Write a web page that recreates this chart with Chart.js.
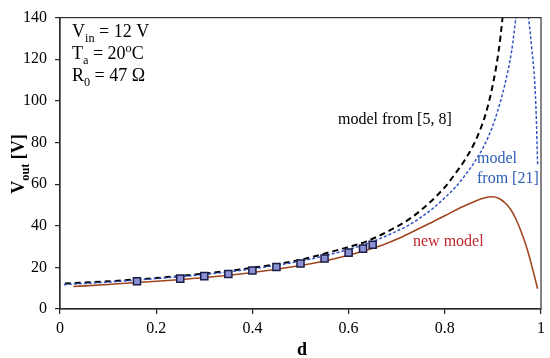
<!DOCTYPE html>
<html>
<head>
<meta charset="utf-8">
<script src="https://cdn.jsdelivr.net/npm/chart.js@4.4.1/dist/chart.umd.min.js"></script>
<style>
  html, body { margin: 0; padding: 0; background: #fff; }
  #wrap { width: 550px; height: 358px; }
</style>
</head>
<body>
<div id="wrap"><canvas id="vout"></canvas></div>
<script>
const xTicks = [0, 0.2, 0.4, 0.6, 0.8, 1];
const yTicks = [0, 20, 40, 60, 80, 100, 120, 140];

// model from [5, 8]
const dRef58 = [0.01, 0.1, 0.2, 0.3, 0.4, 0.5, 0.567, 0.636, 0.705, 0.73, 0.753, 0.775, 0.8, 0.82, 0.84, 0.86, 0.875, 0.886, 0.9, 0.912, 0.92, 0.926];
const vRef58 = [12.2, 13.3, 14.9, 17.0, 19.8, 23.6, 27.7, 32.4, 40.2, 43.8, 48, 52.5, 58.5, 64.5, 71, 79, 87, 94.5, 108, 124, 140, 156];

// model from [21]
const dRef21 = [0.008, 0.1, 0.2, 0.3, 0.4, 0.5, 0.6, 0.65, 0.7, 0.726, 0.75, 0.775, 0.797, 0.822, 0.843, 0.863, 0.883, 0.898, 0.909, 0.925, 0.939, 0.948, 0.955, 0.961, 0.967, 0.974, 0.981, 0.987, 0.99, 0.993];
const vRef21 = [11.7, 12.9, 14.6, 16.6, 19.3, 23.0, 28.6, 32.4, 37.4, 40.4, 44, 48.3, 52.8, 58.5, 64.5, 71, 79, 87, 94.5, 108, 124, 140, 150, 154, 150, 140, 124.8, 109, 93.5, 69.2];

// new model
const dNew = [0.028, 0.1, 0.2, 0.3, 0.4, 0.5, 0.55, 0.6, 0.663, 0.7, 0.733, 0.77, 0.802, 0.83, 0.857, 0.88, 0.898, 0.912, 0.926, 0.937, 0.947, 0.957, 0.967, 0.975, 0.981, 0.987, 0.993];
const vNew = [10.8, 11.8, 13.3, 15.1, 17.5, 20.9, 23.1, 25.8, 30.1, 33.5, 37.1, 41.3, 45.0, 48.4, 51.2, 53.2, 53.9, 53.2, 50.8, 47.8, 43.6, 38.2, 31.8, 25.8, 20.6, 15.2, 9.7];

// measured
const dMeas = [0.16, 0.25, 0.30, 0.35, 0.40, 0.45, 0.50, 0.55, 0.60, 0.63, 0.65];
const vMeas = [13.3, 14.6, 15.8, 16.8, 18.5, 20.2, 21.9, 24.3, 27.1, 29.0, 30.9];

const pts = (xs, ys) => xs.map((x, i) => ({ x: x, y: ys[i] }));
const SERIF = "'Liberation Serif', 'Times New Roman', serif";

// text with sub/superscript parts: [text, mode] mode: 0 normal, 1 sub, 2 sup
function richText(ctx, parts, x, y, size, weight) {
  let cx = x;
  parts.forEach(([t, m]) => {
    const s = m ? size * 0.68 : size;
    ctx.font = (weight || '') + ' ' + s + 'px ' + SERIF;
    const dy = m === 1 ? size * 0.25 : (m === 2 ? -size * 0.38 : 0);
    ctx.fillText(t, cx, y + dy);
    cx += ctx.measureText(t).width;
  });
  return cx - x;
}

const extras = {
  id: 'extras',
  afterDatasetsDraw(chart) {
    const { ctx, chartArea: a } = chart;
    ctx.save();
    ctx.strokeStyle = '#333';
    ctx.lineWidth = 1.2;
    ctx.strokeRect(a.left, a.top, a.right - a.left, a.bottom - a.top);
    ctx.restore();
  },
  afterDraw(chart) {
    const ctx = chart.ctx;
    ctx.save();
    ctx.textAlign = 'left';
    ctx.textBaseline = 'alphabetic';
    ctx.fillStyle = '#000';
    richText(ctx, [['V', 0], ['in', 1], [' = 12 V', 0]], 72, 37, 18);
    richText(ctx, [['T', 0], ['a', 1], [' = 20', 0], ['o', 2], ['C', 0]], 72, 59, 18);
    richText(ctx, [['R', 0], ['0', 1], [' = 47 \u03A9', 0]], 72, 81, 18);

    ctx.font = '16px ' + SERIF;
    ctx.fillStyle = '#000';
    ctx.fillText('model from [5, 8]', 338, 124);
    ctx.fillStyle = '#2f5fb5';
    ctx.fillText('model', 477, 163);
    ctx.fillText('from [21]', 477, 183);
    ctx.fillStyle = '#c0282d';
    ctx.fillText('new model', 413, 246);

    // axis titles
    ctx.fillStyle = '#000';
    ctx.font = 'bold 18px ' + SERIF;
    ctx.textAlign = 'center';
    ctx.fillText('d', 302, 355);

    ctx.translate(24, 164);
    ctx.rotate(-Math.PI / 2);
    ctx.textAlign = 'left';
    const parts = [['V', 0], ['out', 1], [' [V]', 0]];
    let w = 0;
    parts.forEach(([t, m]) => {
      ctx.font = 'bold ' + (m ? 18 * 0.68 : 18) + 'px ' + SERIF;
      w += ctx.measureText(t).width;
    });
    richText(ctx, parts, -w / 2, 0, 18, 'bold');
    ctx.restore();
  }
};

new Chart(document.getElementById('vout'), {
  type: 'scatter',
  data: {
    datasets: [
      {
        label: 'measured',
        data: pts(dMeas, vMeas),
        showLine: false,
        pointStyle: 'rect',
        pointRadius: 5,
        backgroundColor: '#8a93d6',
        borderColor: '#1c1c48',
        borderWidth: 1.5
      },
      {
        label: 'new model',
        data: pts(dNew, vNew),
        showLine: true,
        pointRadius: 0,
        borderColor: '#a0461e',
        borderWidth: 1.6,
        cubicInterpolationMode: 'monotone'
      },
      {
        label: 'model from [21]',
        data: pts(dRef21, vRef21),
        showLine: true,
        pointRadius: 0,
        borderColor: '#3355c0',
        borderWidth: 1.5,
        borderDash: [3, 2],
        cubicInterpolationMode: 'monotone'
      },
      {
        label: 'model from [5, 8]',
        data: pts(dRef58, vRef58),
        showLine: true,
        pointRadius: 0,
        borderColor: '#000',
        borderWidth: 2,
        borderDash: [6, 4],
        cubicInterpolationMode: 'monotone'
      }
    ]
  },
  options: {
    responsive: true,
    maintainAspectRatio: false,
    animation: false,
    layout: { padding: { left: 0, top: 11, right: 6, bottom: 0 } },
    plugins: { legend: { display: false }, tooltip: { enabled: false } },
    scales: {
      x: {
        type: 'linear',
        min: 0,
        max: 1,
        afterBuildTicks: s => { s.ticks = xTicks.map(v => ({ value: v })); },
        afterFit: s => { s.height = 49; },
        grid: { drawOnChartArea: false, drawTicks: true, tickLength: 5, color: '#222', lineWidth: 1.2 },
        border: { display: true, color: '#222', width: 1.3 },
        ticks: {
          color: '#000',
          padding: 5,
          maxRotation: 0,
          font: { family: SERIF, size: 16 },
          callback: v => String(+v.toFixed(1))
        }
      },
      y: {
        type: 'linear',
        min: 0,
        max: 140,
        afterBuildTicks: s => { s.ticks = yTicks.map(v => ({ value: v })); },
        afterFit: s => { s.width = 60; },
        grid: { drawOnChartArea: false, drawTicks: true, tickLength: 5, color: '#222', lineWidth: 1.2 },
        border: { display: true, color: '#222', width: 1.3 },
        ticks: {
          color: '#000',
          padding: 8,
          font: { family: SERIF, size: 16 }
        }
      }
    }
  },
  plugins: [extras]
});
</script>
</body>
</html>
